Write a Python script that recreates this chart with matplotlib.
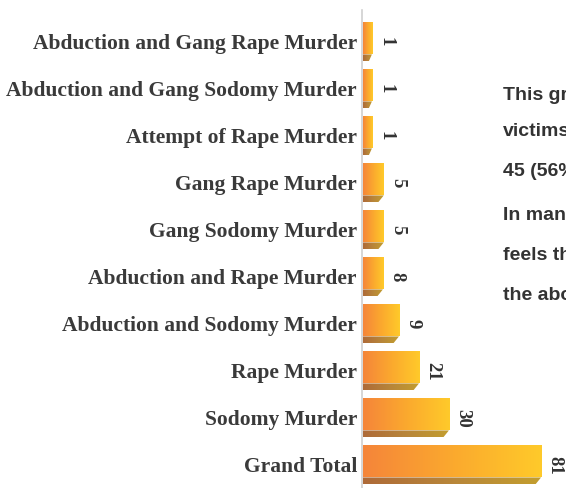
import matplotlib
matplotlib.use("Agg")
import matplotlib.pyplot as plt
import numpy as np
from matplotlib.patches import Polygon
from matplotlib.colors import LinearSegmentedColormap

categories = [
    "Grand Total",
    "Sodomy Murder",
    "Rape Murder",
    "Abduction and Sodomy Murder",
    "Abduction and Rape Murder",
    "Gang Sodomy Murder",
    "Gang Rape Murder",
    "Attempt of Rape Murder",
    "Abduction and Gang Sodomy Murder",
    "Abduction and Gang Rape Murder",
]
counts = [81, 30, 21, 9, 8, 5, 5, 1, 1, 1]
# bar lengths as drawn in the reference (display units)
bar_lengths = [81, 39.1, 25.5, 16.4, 9.1, 9.5, 9.5, 4.1, 4.1, 4.1]

note_lines = ["This graph", "victims", "45 (56%", "In many", "feels that", "the above"]

fig = plt.figure(figsize=(5.66, 4.88), dpi=100)
ax = fig.add_axes([362 / 566, 0.0, 198 / 566, 478 / 488])

face_cmap = LinearSegmentedColormap.from_list("face", ["#F5853A", "#FBA92E", "#FFCA2A"])
shadow_cmap = LinearSegmentedColormap.from_list("shadow", ["#AE6A38", "#B8863A", "#C39E2E"])

h = 0.83
sh = 0.15
slant = 2.6
grad = np.linspace(0, 1, 256).reshape(1, -1)

for i, (L, c) in enumerate(zip(bar_lengths, counts)):
    top = i + h / 2
    bot = i - h / 2
    mid = bot + sh
    face = ax.barh(i, L, height=h - sh, left=0.4, align="edge", color="none")[0]
    face.set_y(mid)
    face.set_height(top - mid)
    im = ax.imshow(grad, cmap=face_cmap, extent=[0.4, 0.4 + L, mid, top],
                   aspect="auto", origin="lower", zorder=2)
    im.set_clip_path(face)
    s = min(slant, 0.35 * L)
    poly = Polygon([[0.4, mid], [0.4 + L, mid], [0.4 + L - s, bot], [0.4, bot]],
                   closed=True, facecolor="none", edgecolor="none")
    ax.add_patch(poly)
    im2 = ax.imshow(grad, cmap=shadow_cmap, extent=[0.4, 0.4 + L, bot, mid],
                    aspect="auto", origin="lower", zorder=2)
    im2.set_clip_path(poly)
    ax.annotate(str(c), xy=(0.4 + L, i), xytext=(4, 0), textcoords="offset points",
                ha="left", va="center", rotation=-90, fontsize=13.5,
                fontfamily="Liberation Serif", fontweight="bold", color="#333333")

ax.set_xlim(0, 90)
ax.set_ylim(-0.49, 9.68)
ax.set_yticks(range(len(categories)))
ax.set_yticklabels(categories, fontfamily="Liberation Serif", fontweight="bold",
                   fontsize=15.5, color="#3a3a3a")
ax.tick_params(axis="y", length=0, pad=3.6)
ax.set_xticks([])
for sp in ["top", "right", "bottom"]:
    ax.spines[sp].set_visible(False)
ax.spines["left"].set_color("#d0d0d0")
ax.spines["left"].set_linewidth(1.2)
ax.patch.set_alpha(0)

ys = [95, 131, 171, 216, 256, 296]
for t, y in zip(note_lines, ys):
    fig.text(503 / 566, 1 - y / 488, t, ha="left", va="center", fontsize=14,
             fontfamily="Liberation Sans", fontweight="bold", color="#333333")

fig.savefig("out.png", dpi=100)
